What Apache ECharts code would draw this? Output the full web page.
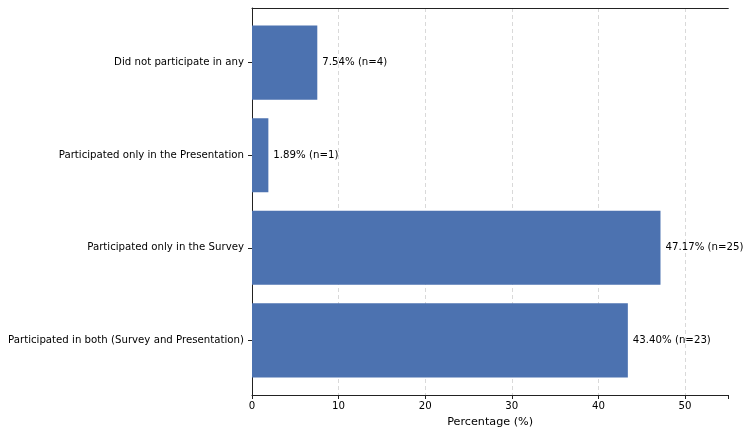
<!DOCTYPE html>
<html>
<head>
<meta charset="utf-8">
<script src="https://cdn.jsdelivr.net/npm/echarts@6/dist/echarts.min.js"></script>
<style>
  html, body { margin: 0; padding: 0; background: #fff; }
  #main { width: 750px; height: 435px; }
</style>
</head>
<body>
<div id="main"></div>
<script>
// categories, bottom to top (same order as the bars are stacked in the picture)
var categories = [
  'Participated in both (Survey and Presentation)',
  'Participated only in the Survey',
  'Participated only in the Presentation',
  'Did not participate in any'
];
var percents = [43.40, 47.17, 1.89, 7.54];
var counts = [23, 25, 1, 4];
var xTicks = [0, 10, 20, 30, 40, 50];

var FONT = 'DejaVu Sans';
var myChart = echarts.init(document.getElementById('main'));

// grid 0 = full frame (spines + grid lines), grid 1 = inner band area for bars
myChart.setOption({
  backgroundColor: '#fff',
  animation: false,
  grid: [
    { left: 252, right: 21.7, top: 8, bottom: 40, outerBoundsMode: 'none' },
    { left: 252, right: 21.7, top: 16.3, bottom: 48.3, outerBoundsMode: 'none' }
  ],
  xAxis: [
    {
      gridIndex: 0, type: 'value', min: 0, max: 55, interval: 10,
      axisLine: { show: true, lineStyle: { color: '#222', width: 1 } },
      axisTick: { show: true, length: 4, lineStyle: { color: '#222' } },
      axisLabel: {
        fontFamily: FONT, fontSize: 10.2, color: '#000', margin: 6,
        customValues: xTicks
      },
      splitLine: {
        show: true, showMinLine: false, showMaxLine: false,
        lineStyle: { color: '#cfcfcf', type: [4, 3], width: 0.8 }
      },
      name: 'Percentage (%)', nameLocation: 'middle', nameGap: 22,
      nameTextStyle: { fontFamily: FONT, fontSize: 11.2, color: '#000' }
    },
    {
      gridIndex: 0, type: 'value', position: 'top', min: 0, max: 55,
      axisLine: { show: true, lineStyle: { color: '#222', width: 1 } },
      axisTick: { show: false }, axisLabel: { show: false }, splitLine: { show: false }
    },
    {
      gridIndex: 1, type: 'value', min: 0, max: 55, show: false
    }
  ],
  yAxis: [
    {
      gridIndex: 0, type: 'value', min: 0, max: 1,
      axisLine: { show: true, lineStyle: { color: '#222', width: 1 } },
      axisTick: { show: false }, axisLabel: { show: false }, splitLine: { show: false }
    },
    {
      gridIndex: 1, type: 'category', data: categories,
      axisLine: { show: false },
      axisTick: { show: true, alignWithLabel: true, length: 4, lineStyle: { color: '#222' } },
      axisLabel: { fontFamily: FONT, fontSize: 10.2, color: '#000', margin: 8 },
      splitLine: { show: false }
    }
  ],
  series: [{
    type: 'bar',
    xAxisIndex: 2,
    yAxisIndex: 1,
    data: percents,
    barWidth: '80%',
    itemStyle: { color: '#4c72b0' },
    label: {
      show: true,
      position: 'right',
      distance: 5,
      fontFamily: FONT,
      fontSize: 10.2,
      color: '#000',
      formatter: function (p) {
        return percents[p.dataIndex].toFixed(2) + '% (n=' + counts[p.dataIndex] + ')';
      }
    }
  }]
});
</script>
</body>
</html>
